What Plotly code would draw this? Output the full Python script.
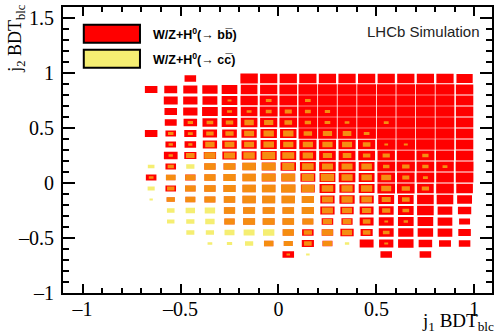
import plotly.graph_objects as go

# Bin centres of the 2D histograms (bin size 0.1 x 0.1)
x_centers = [-0.65, -0.55, -0.45, -0.35, -0.25, -0.15, -0.05, 0.05, 0.15,
             0.25, 0.35, 0.45, 0.55, 0.65, 0.75, 0.85, 0.95]
y_centers = [0.95, 0.85, 0.75, 0.65, 0.55, 0.45, 0.35, 0.25, 0.15, 0.05,
             -0.05, -0.15, -0.25, -0.35, -0.45, -0.55, -0.65]

# Relative box size per bin, W/Z+H0(-> b bbar); rows follow y_centers
bb = [
    [0, 0, .59, 0, 0, .89, .88, .88, .88, .88, .88, .88, .88, .88, .88, .88, .83],
    [.64, .66, .72, .78, .80, .85, .88, .90, .96, .96, .96, .96, .96, .96, .96, .96, .89],
    [0, .71, .73, .76, .80, .88, .91, .90, .96, .96, .96, .96, .96, .96, .96, .96, .89],
    [0, .64, .73, .80, .80, .85, .91, .90, .96, .96, .96, .96, .96, .96, .96, .96, .89],
    [0, .61, .69, .76, .80, .85, .88, .90, .96, .96, .96, .96, .96, .96, .96, .96, .89],
    [.64, .54, .62, .73, .75, .78, .84, .84, .95, .95, .95, .95, .96, .96, .96, .96, .89],
    [0, .54, .59, .73, .75, .78, .83, .84, .88, .88, .88, .88, .95, .95, .95, .95, .89],
    [0, .70, .62, .63, .73, .76, .82, .81, .85, .85, .86, .86, .89, .92, .92, .92, .89],
    [0, .54, 0, .58, .61, .69, .71, .79, .81, .85, .88, .81, .91, .93, .90, .90, .91],
    [.54, .49, .53, .57, .62, .68, .71, .71, .76, .81, .85, .81, .90, .90, .90, .90, .90],
    [0, .54, .54, .58, .62, .68, .69, .73, .71, .81, .78, .81, .90, .90, .85, .90, .85],
    [0, .42, .51, .56, .58, .68, .66, .68, .62, .73, .78, .73, .81, .80, .85, .85, .76],
    [0, 0, 0, 0, .57, .61, .61, .59, .62, .73, .68, .71, .76, .80, .85, .75, .68],
    [0, 0, 0, 0, .53, .61, .61, .59, .56, .59, .57, .71, .76, .80, .80, .75, .56],
    [0, 0, 0, 0, 0, 0, 0, .57, .59, .59, .68, .62, .76, .78, .79, .75, .64],
    [0, 0, 0, 0, 0, 0, .48, .46, .62, .51, 0, .71, .73, .79, .69, .61, .59],
    [0, 0, 0, 0, 0, 0, 0, .59, 0, 0, 0, 0, .59, 0, .59, 0, 0],
]

# Relative box size per bin, W/Z+H0(-> c cbar)
cc = [
    [0] * 17,
    [0] * 17,
    [0, 0, 0, 0, .20, 0, .29, 0, .29, 0, 0, 0, 0, 0, 0, 0, 0],
    [0, 0, 0, 0, .25, .25, .30, .36, .30, .27, 0, 0, 0, 0, 0, 0, 0],
    [0, 0, .27, .34, .38, .48, .47, .39, .32, .29, .24, 0, .25, 0, 0, 0, 0],
    [0, .28, .25, .38, .42, .51, .53, .53, .43, .47, .44, .29, 0, 0, 0, 0, 0],
    [0, .22, .21, .48, .50, .51, .54, .52, .52, .52, .51, .39, .19, .20, 0, 0, 0],
    [0, .22, .44, .58, .56, .58, .66, .61, .53, .47, .44, .38, .37, 0, .32, 0, 0],
    [.34, .32, .42, .57, .59, .68, .70, .62, .59, .56, .56, .54, .33, .38, .32, .25, 0],
    [.24, .49, .52, .57, .62, .68, .70, .69, .62, .68, .57, .54, .51, .36, .25, 0, 0],
    [.36, .38, .54, .58, .62, .68, .69, .73, .66, .59, .57, .57, .51, .42, .37, 0, 0],
    [.17, .42, .51, .56, .58, .68, .66, .68, .62, .56, .57, .54, .46, .39, 0, 0, 0],
    [0, .39, .48, .53, .57, .61, .61, .59, .62, .56, .51, .47, .42, .34, 0, 0, 0],
    [0, .38, .42, .48, .53, .61, .61, .59, .56, .47, .44, .39, .19, .22, 0, 0, 0],
    [0, 0, .41, .42, .51, .56, .58, .57, .42, .56, .51, .39, .34, 0, 0, 0, 0],
    [0, 0, 0, .24, .27, .42, .48, .46, .39, .47, .22, 0, .20, 0, 0, 0, 0],
    [0, 0, 0, 0, 0, 0, 0, .18, .18, 0, 0, 0, 0, 0, 0, 0, 0],
]

x_tick_vals = [-1, -0.5, 0, 0.5, 1]
x_tick_text = ["\u20131", "\u20130.5", "0", "0.5", "1"]
y_tick_vals = [-1, -0.5, 0, 0.5, 1, 1.5]
y_tick_text = ["\u20131", "\u20130.5", "0", "0.5", "1", "1.5"]

BIN_W, BIN_H = 0.1, 0.1
RED = "rgb(255,0,0)"
YELLOW = "rgba(239,227,28,0.62)"
SERIF = "Liberation Serif"
SANS = "Liberation Sans"


def box_paths(grid):
    """ROOT-style BOX drawing: one rectangle per bin, scaled by content."""
    xs, ys = [], []
    for yc, row in zip(y_centers, grid):
        for xc, v in zip(x_centers, row):
            if v <= 0:
                continue
            hw, hh = 0.5 * BIN_W * v, 0.5 * BIN_H * v
            xs += [xc - hw, xc + hw, xc + hw, xc - hw, xc - hw, None]
            ys += [yc - hh, yc - hh, yc + hh, yc + hh, yc - hh, None]
    return xs, ys


fig = go.Figure()
for grid, color in ((bb, RED), (cc, YELLOW)):
    bx, by = box_paths(grid)
    fig.add_trace(go.Scatter(x=bx, y=by, mode="lines", fill="toself",
                             fillcolor=color, line=dict(width=0),
                             hoverinfo="skip", showlegend=False))

W, H = 496, 336
L, R, T, B = 62.6, 2, 7.3, 42.7
PW, PH = W - L - R, H - T - B


def px(x):
    return (x - L) / PW


def py(y):
    return (H - B - y) / PH


# Legend boxes and texts
legend = [(RED, 25, 43, "W/Z+H<sup>0</sup>(\u2192 bb\u0305)"),
          (YELLOW, 50, 68, "W/Z+H<sup>0</sup>(\u2192 cc\u0305)")]
shapes = []
annotations = []
for color, y0, y1, label in legend:
    shapes.append(dict(type="rect", xref="paper", yref="paper",
                       x0=px(83.5), x1=px(140), y0=py(y1), y1=py(y0),
                       fillcolor=color, line=dict(color="black", width=2)))
    annotations.append(dict(x=px(151), y=py((y0 + y1) / 2), xref="paper", yref="paper",
                            text="<b>" + label + "</b>", showarrow=False,
                            xanchor="left", yanchor="middle",
                            font=dict(family=SANS, size=12.5, color="black")))

annotations.append(dict(x=px(484), y=py(32), xref="paper", yref="paper",
                        text="LHCb Simulation", showarrow=False,
                        xanchor="right", yanchor="middle",
                        font=dict(family=SANS, size=15, color="#222")))

# Axis titles
annotations.append(dict(x=px(16), y=py(2), xref="paper", yref="paper",
                        text="j<sub>2</sub> BDT<sub>blc</sub>", showarrow=False,
                        textangle=-90, xanchor="center", yanchor="top",
                        font=dict(family=SERIF, size=18, color="black")))
annotations.append(dict(x=px(498), y=py(336), xref="paper", yref="paper",
                        text="j<sub>1</sub> BDT<sub>blc</sub>", showarrow=False,
                        xanchor="right", yanchor="bottom",
                        font=dict(family=SERIF, size=19, color="black")))

common = dict(showgrid=False, zeroline=False, showline=True, linecolor="black",
              linewidth=2, mirror="ticks", ticks="inside", tickcolor="black",
              tickwidth=1.5, tickfont=dict(family=SERIF, size=20, color="black"))

fig.update_layout(
    width=W, height=H,
    margin=dict(l=L, r=R, t=T, b=B, pad=0),
    paper_bgcolor="white", plot_bgcolor="white",
    xaxis=dict(range=[-1.1, 1.09], tickmode="array", tickvals=x_tick_vals,
               ticktext=x_tick_text, ticklen=9, ticklabelstandoff=-3,
               minor=dict(ticks="inside", dtick=0.1, tick0=0, ticklen=5,
                          tickcolor="black", tickwidth=1.5),
               **common),
    yaxis=dict(range=[-1.0, 1.6], tickmode="array", tickvals=y_tick_vals,
               ticktext=y_tick_text, ticklen=12, ticklabelstandoff=3,
               minor=dict(ticks="inside", dtick=0.1, tick0=0, ticklen=6,
                          tickcolor="black", tickwidth=1.5),
               **common),
    shapes=shapes, annotations=annotations,
)

fig.write_html("out.html")
